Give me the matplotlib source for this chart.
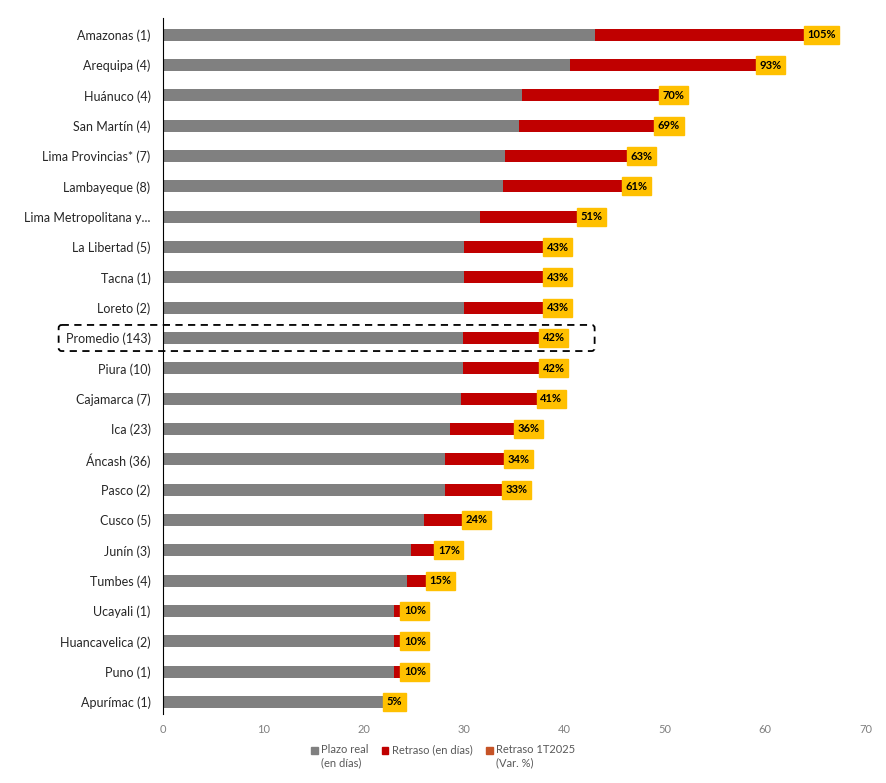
import numpy as np
import matplotlib.pyplot as plt
from matplotlib.patches import Patch, FancyBboxPatch, Rectangle
from matplotlib.legend_handler import HandlerPatch

plt.rcParams['font.family'] = ['Lato', 'DejaVu Sans']

regiones = ["Amazonas (1)", "Arequipa (4)", "Huánuco (4)", "San Martín (4)",
            "Lima Provincias* (7)", "Lambayeque (8)", "Lima Metropolitana y...",
            "La Libertad (5)", "Tacna (1)", "Loreto (2)", "Promedio (143)",
            "Piura (10)", "Cajamarca (7)", "Ica (23)", "Áncash (36)", "Pasco (2)",
            "Cusco (5)", "Junín (3)", "Tumbes (4)", "Ucayali (1)",
            "Huancavelica (2)", "Puno (1)", "Apurímac (1)"]
plazo_real = [43.0, 40.5, 35.75, 35.5, 34.1, 33.9, 31.6, 30.0, 30.0, 30.0, 29.85,
              29.85, 29.7, 28.55, 28.1, 28.05, 26.0, 24.7, 24.3, 23.0, 23.0, 23.0, 22.0]
retraso = [20.9, 18.6, 13.75, 13.5, 12.2, 11.9, 9.7, 7.9, 7.9, 7.9, 7.7,
           7.65, 7.6, 6.45, 5.9, 5.75, 3.8, 2.4, 1.95, 0.7, 0.7, 0.7, 0.0]
var_pct = [105, 93, 70, 69, 63, 61, 51, 43, 43, 43, 42, 42, 41, 36, 34, 33,
           24, 17, 15, 10, 10, 10, 5]

gris = "#808080"
rojo = "#C00000"
naranja = "#C65326"
amarillo = "#FFC000"


class HandlerArriba(HandlerPatch):
    # cuadrito alineado con la primera linea del texto
    def create_artists(self, legend, orig_handle, xdescent, ydescent,
                       width, height, fontsize, trans):
        p = Rectangle((-xdescent, -ydescent + 0.6 * fontsize), width, height,
                      color=orig_handle.get_facecolor(), transform=trans)
        return [p]


fig = plt.figure(figsize=(8.86, 7.83), dpi=100)
ax = fig.add_axes([0.184, 0.088, 0.793, 0.889])

y = np.arange(len(regiones))
ax.barh(y, plazo_real, height=0.4, color=gris)
ax.barh(y, retraso, left=plazo_real, height=0.4, color=rojo)

for i in range(len(regiones)):
    total = plazo_real[i] + retraso[i]
    ax.text(total + 0.3, y[i], f"{var_pct[i]}%", va="center", ha="left",
            fontsize=8, fontweight="bold", color="black",
            bbox=dict(boxstyle="square,pad=0.32", fc=amarillo, ec=amarillo))

# recuadro del promedio
ip = regiones.index("Promedio (143)")
caja = FancyBboxPatch((-10.4, ip - 0.43), 53.4, 0.86,
                      boxstyle="round,pad=0,rounding_size=0.3",
                      fill=False, ec="black", lw=1.3, ls=(0, (4, 3)),
                      clip_on=False, mutation_aspect=1 / 3)
ax.add_patch(caja)

ax.set_xlim(0, 70)
ax.set_ylim(len(regiones) - 0.6, -0.55)
ax.set_yticks(y)
ax.set_yticklabels(regiones, fontsize=9, color="#262626")
ax.set_xticks(range(0, 71, 10))
ax.tick_params(axis="x", length=0, labelsize=8, colors="#808080", pad=7)
ax.tick_params(axis="y", length=0, pad=9)
for s in ["top", "right", "bottom"]:
    ax.spines[s].set_visible(False)
ax.spines["left"].set_color("black")

handles = [Patch(color=gris), Patch(color=rojo), Patch(color=naranja)]
labels = ["Plazo real\n(en días)", "Retraso (en días)\n ", "Retraso 1T2025\n(Var. %)"]
leg = fig.legend(handles, labels, loc="upper center", bbox_to_anchor=(0.5, 0.062),
                 ncol=3, frameon=False, fontsize=8, handlelength=0.6,
                 handleheight=0.6, handletextpad=0.3, columnspacing=1.2,
                 handler_map={Patch: HandlerArriba()})
for t in leg.get_texts():
    t.set_color("#595959")

fig.savefig("out.png", dpi=100)
